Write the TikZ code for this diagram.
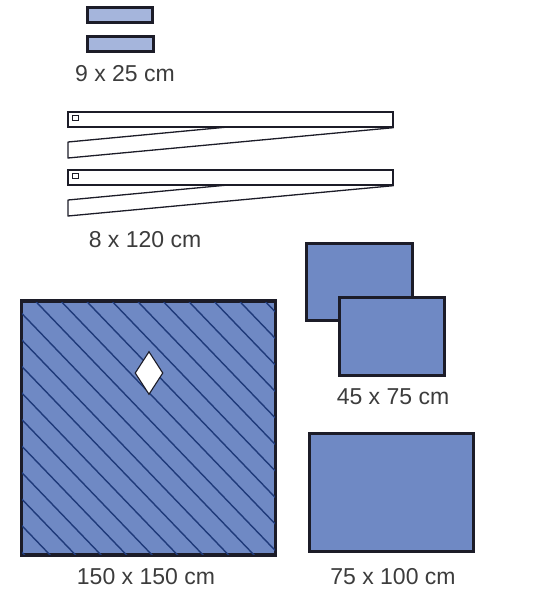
\documentclass[tikz,border=0pt]{standalone}
\usepackage{fontspec}
\setmainfont{Liberation Sans}
\usetikzlibrary{shapes.geometric}
\definecolor{drape}{HTML}{6F89C4}
\definecolor{stripfill}{HTML}{A5B5DC}
\definecolor{hatchcol}{HTML}{1F3A7A}
\definecolor{edgecol}{HTML}{1C1C28}
\definecolor{txtcol}{HTML}{3C3C3C}
\tikzset{
  drapebox/.style={draw=edgecol, line width=2.3pt, fill=drape, inner sep=0pt},
  stripbox/.style={draw=edgecol, line width=3pt, fill=stripfill, inner sep=0pt},
  tiebox/.style={draw=edgecol, line width=1.3pt, fill=white, inner sep=0pt},
  sizelabel/.style={text=txtcol, font=\fontsize{23}{26}\selectfont, inner sep=0pt},
}
\begin{document}
\begin{tikzpicture}[x=1pt,y=-1pt]
\useasboundingbox (0,0) rectangle (542,595);

% 9 x 25 cm
\node[stripbox, minimum width=65, minimum height=15] (S1) at (119.5,14.5) {};
\node[stripbox, minimum width=66, minimum height=15] (S2) at (120,43.5) {};
\node[sizelabel] (L1) at (125,74) {9 x 25 cm};

% 8 x 120 cm
\foreach \i/\dy in {1/0,2/58} {
  \node[tiebox, minimum width=325, minimum height=15] (T\i) at (230.5,{119.5+\dy}) {};
  \node[tiebox, line width=1pt, minimum width=6, minimum height=5] (K\i) at (75.5,{117.5+\dy}) {};
  \draw[edgecol, line width=1.3pt, line join=round]
    (T\i.south east) -- (68,{158+\dy}) -- (68,{142+\dy}) -- (228,{127+\dy});
}
\node[sizelabel] (L2) at (145,240) {8 x 120 cm};

% 150 x 150 cm
\node[drapebox, minimum width=253, minimum height=253] (D1) at (148.5,428) {};
\begin{scope}
  \clip (D1.south west) rectangle (D1.north east);
  \foreach \k in {-10,...,9}
    \draw[hatchcol, line width=1.4pt] ({36+25.5*\k},301.7) -- ++(300,312);
\end{scope}
\draw[edgecol, line width=2.3pt] (D1.south west) rectangle (D1.north east);
\node[diamond, draw=edgecol, line width=1.1pt, fill=white, inner sep=0pt,
      minimum width=28, minimum height=43] (O1) at (149,373) {};
\node[sizelabel] (L3) at (146,577) {150 x 150 cm};

% 45 x 75 cm
\node[drapebox, minimum width=106, minimum height=77] (H1) at (359.5,282) {};
\node[drapebox, minimum width=105, minimum height=78] (H2) at (392,336.5) {};
\node[sizelabel] (L4) at (393,397) {45 x 75 cm};

% 75 x 100 cm
\node[drapebox, minimum width=164, minimum height=118] (P1) at (391.5,492.5) {};
\node[sizelabel] (L5) at (393,577) {75 x 100 cm};
\end{tikzpicture}
\end{document}
